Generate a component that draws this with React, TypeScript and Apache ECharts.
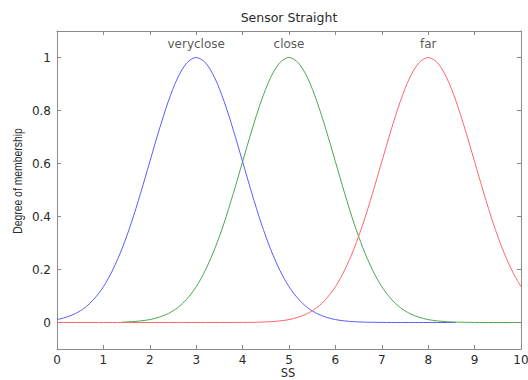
import React, { useEffect, useRef } from "react";
import * as echarts from "echarts";

const ssValues = [
  0, 0.2, 0.4, 0.6, 0.8, 1, 1.2, 1.4, 1.6, 1.8, 2, 2.2, 2.4, 2.6, 2.8, 3, 3.2, 3.4, 3.6, 3.8,
  4, 4.2, 4.4, 4.6, 4.8, 5, 5.2, 5.4, 5.6, 5.8, 6, 6.2, 6.4, 6.6, 6.8, 7, 7.2, 7.4, 7.6, 7.8,
  8, 8.2, 8.4, 8.6, 8.8, 9, 9.2, 9.4, 9.6, 9.8, 10,
];

const veryclose = [
  0.011, 0.02, 0.034, 0.056, 0.089, 0.135, 0.198, 0.278, 0.375, 0.487,
  0.607, 0.726, 0.835, 0.923, 0.98, 1, 0.98, 0.923, 0.835, 0.726,
  0.607, 0.487, 0.375, 0.278, 0.198, 0.135, 0.089, 0.056, 0.034, 0.02,
  0.011, 0.006, 0.003, 0.0015, 0.0007, 0.0003, 0, 0, 0, 0,
  0, 0, 0, 0, null, null, null, null, null, null, null,
];

const close = [
  null, null, null, null, null, null, null, 0.0015, 0.003, 0.006,
  0.011, 0.02, 0.034, 0.056, 0.089, 0.135, 0.198, 0.278, 0.375, 0.487,
  0.607, 0.726, 0.835, 0.923, 0.98, 1, 0.98, 0.923, 0.835, 0.726,
  0.607, 0.487, 0.375, 0.278, 0.198, 0.135, 0.089, 0.056, 0.034, 0.02,
  0.011, 0.006, 0.003, 0.0015, 0.0007, 0.0003, 0, 0, 0, 0, 0,
];

const far = [
  0, 0, 0, 0, 0, 0, 0, 0, 0, 0,
  0, 0, 0, 0, 0, 0, 0, 0, 0, 0,
  0.0003, 0.0007, 0.0015, 0.003, 0.006, 0.011, 0.02, 0.034, 0.056, 0.089,
  0.135, 0.198, 0.278, 0.375, 0.487, 0.607, 0.726, 0.835, 0.923, 0.98,
  1, 0.98, 0.923, 0.835, 0.726, 0.607, 0.487, 0.375, 0.278, 0.198, 0.135,
];

const mfNames = ["veryclose", "close", "far"];
const mfPeaks = [3, 5, 8];
const mfLabelLevel = 1.051;

const yTicks = [0, 0.2, 0.4, 0.6, 0.8, 1];

const FONT = "DejaVu Sans";
const AXIS_COLOR = "#8a8a8a";
const TEXT_COLOR = "#2a2a2a";

function pairs(vals: (number | null)[]) {
  return ssValues.map((x, i) => [x, vals[i]]).filter((p) => p[1] !== null);
}

export default function App() {
  const ref = useRef<HTMLDivElement>(null);
  useEffect(() => {
    if (!ref.current) return;
    const chart = echarts.init(ref.current, null, { renderer: "svg" });
    const xCommon = {
      type: "value",
      min: 0,
      max: 10,
      interval: 1,
      splitLine: { show: false },
      axisLine: { show: true, onZero: false, lineStyle: { color: AXIS_COLOR, width: 1 } },
      axisTick: { show: true, inside: true, length: 4, lineStyle: { color: AXIS_COLOR } },
    };
    const yCommon = {
      type: "value",
      min: -0.1,
      max: 1.1,
      splitLine: { show: false },
      axisLine: { show: true, onZero: false, lineStyle: { color: AXIS_COLOR, width: 1 } },
      axisTick: {
        show: true,
        inside: true,
        length: 4,
        customValues: yTicks,
        lineStyle: { color: AXIS_COLOR },
      },
    };
    chart.setOption({
      animation: false,
      backgroundColor: "#ffffff",
      grid: {
        left: 57,
        right: 7,
        top: 31,
        bottom: 31,
        containLabel: false,
        outerBoundsMode: "none",
      },
      xAxis: [
        {
          ...xCommon,
          position: "bottom",
          axisLabel: { show: true, margin: 5, fontFamily: FONT, fontSize: 12, color: TEXT_COLOR },
        },
        { ...xCommon, position: "top", axisLabel: { show: false } },
      ],
      yAxis: [
        {
          ...yCommon,
          position: "left",
          axisLabel: {
            show: true,
            margin: 6,
            customValues: yTicks,
            fontFamily: FONT,
            fontSize: 12,
            color: TEXT_COLOR,
            formatter: (v: number) => String(Math.round(v * 10) / 10),
          },
        },
        { ...yCommon, position: "right", axisLabel: { show: false } },
      ],
      graphic: [
        {
          type: "text",
          x: 289,
          y: 17,
          style: {
            text: "Sensor Straight",
            fontFamily: FONT,
            fontSize: 12.5,
            fill: TEXT_COLOR,
            align: "center",
            verticalAlign: "middle",
          },
        },
        {
          type: "text",
          x: 288,
          y: 373,
          style: {
            text: "SS",
            fontFamily: FONT,
            fontSize: 11.5,
            fill: TEXT_COLOR,
            align: "center",
            verticalAlign: "middle",
          },
        },
        {
          type: "text",
          x: 17,
          y: 181,
          rotation: Math.PI / 2,
          scaleX: 0.8,
          style: {
            text: "Degree of membership",
            fontFamily: "Liberation Sans",
            fontSize: 13,
            fill: TEXT_COLOR,
            align: "center",
            verticalAlign: "middle",
          },
        },
      ],
      series: [
        {
          name: "close",
          type: "line",
          data: pairs(close),
          smooth: 0.3,
          symbol: "none",
          lineStyle: { color: "#4ea64e", width: 1 },
          z: 2,
        },
        {
          name: "veryclose",
          type: "line",
          data: pairs(veryclose),
          smooth: 0.3,
          symbol: "none",
          lineStyle: { color: "#5c5cff", width: 1 },
          z: 3,
        },
        {
          name: "far",
          type: "line",
          data: pairs(far),
          smooth: 0.3,
          symbol: "none",
          lineStyle: { color: "#ff6666", width: 1 },
          z: 4,
        },
        {
          name: "labels",
          type: "scatter",
          symbolSize: 0,
          data: mfNames.map((n, i) => ({ name: n, value: [mfPeaks[i], mfLabelLevel] })),
          label: {
            show: true,
            position: "inside",
            formatter: (p: any) => p.name,
            fontFamily: FONT,
            fontSize: 12,
            color: TEXT_COLOR,
          },
          z: 5,
        },
      ],
    });
    return () => chart.dispose();
  }, []);
  return (
    <div
      ref={ref}
      style={{ position: "fixed", left: 0, top: 0, width: 528, height: 380, background: "#fff" }}
    />
  );
}
